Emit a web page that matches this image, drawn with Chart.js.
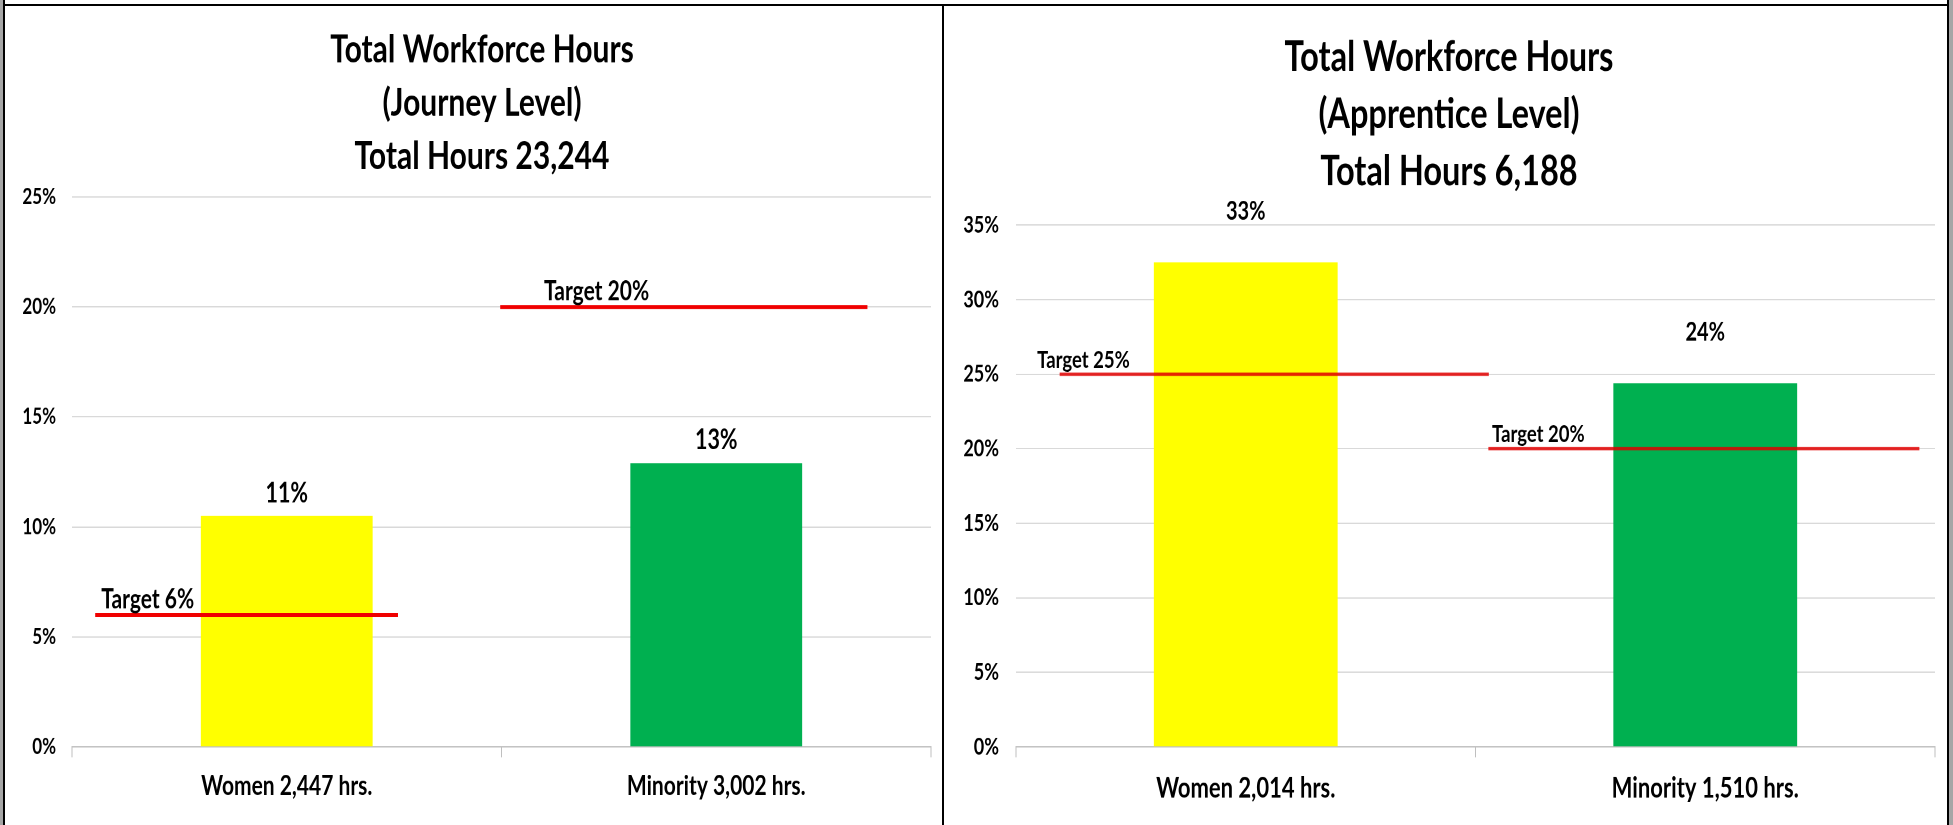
<!DOCTYPE html>
<html>
<head>
<meta charset="utf-8">
<title>Total Workforce Hours</title>
<script src="https://cdn.jsdelivr.net/npm/chart.js@4.4.1/dist/chart.umd.min.js"></script>
<style>
  body { margin: 0; background: #fff; overflow: hidden; }
  .sheet { position: relative; width: 1953px; height: 825px; }
  /* the source picture is stretched vertically, so each chart is drawn short and scaled up */
  .chartBox { position: absolute; top: 0; height: 635px; transform: scaleY(1.3); transform-origin: 0 0; }
  #journeyBox { left: 6px; width: 936px; }
  #apprenticeBox { left: 945px; width: 1002px; }
  .rule { position: absolute; background: #000; }
  .edge { position: absolute; background: #a6a6a6; }
</style>
</head>
<body>
<div class="sheet">
  <div class="chartBox" id="journeyBox"><canvas id="journeyChart"></canvas></div>
  <div class="chartBox" id="apprenticeBox"><canvas id="apprenticeChart"></canvas></div>
  <div class="edge" style="left:0;top:0;width:3px;height:825px"></div>
  <div class="rule" style="left:3px;top:0;width:2px;height:825px"></div>
  <div class="rule" style="left:3px;top:4px;width:1946px;height:2px"></div>
  <div class="rule" style="left:942px;top:4px;width:2px;height:821px"></div>
  <div class="rule" style="left:1947px;top:0;width:2px;height:825px"></div>
  <div class="edge" style="left:1949px;top:0;width:4px;height:825px"></div>
</div>

<script>
// Journey level chart data
const journeyTitle = ['Total Workforce Hours', '(Journey Level)', 'Total Hours 23,244'];
const journeyLabels = ['Women 2,447 hrs.', 'Minority 3,002 hrs.'];
const journeyShares = [10.5, 12.9];
const journeyTargets = [6, 20];
const journeyTicks = [0, 5, 10, 15, 20, 25];

// Apprentice level chart data
const apprenticeTitle = ['Total Workforce Hours', '(Apprentice Level)', 'Total Hours 6,188'];
const apprenticeLabels = ['Women 2,014 hrs.', 'Minority 1,510 hrs.'];
const apprenticeShares = [32.5, 24.4];
const apprenticeTargets = [25, 20];
const apprenticeTicks = [0, 5, 10, 15, 20, 25, 30, 35];

const barColors = ['#ffff00', '#00b050'];

// Sizes and placements for each chart (target line spans are in category units around each bar)
const journeyLook = {
    plotTop: 151.5, padRight: 11, yWidth: 66, xHeight: 60.4,
    titleX: 476, titleSize: 30, titleLine: 41, titleTop: 18,
    tickSize: 17, tickPad: 16, catSize: 21, catPad: 9.5,
    valueSize: 21.5, valueGap: 17.5,
    targetSize: 21, targetGap: 12,
    lineSpans: [[-0.446, 0.259], [-0.503, 0.352]],
    labelStarts: [-0.432, -0.401],
    lineColor: '#f00000', lineWidth: 3
};

const apprenticeLook = {
    plotTop: 173.1, padRight: 12, yWidth: 71, xHeight: 60.4,
    titleX: 504, titleSize: 32.5, titleLine: 44, titleTop: 21.8,
    tickSize: 18, tickPad: 17, catSize: 22, catPad: 10.5,
    valueSize: 20, valueGap: 39,
    targetSize: 18.5, targetGap: 11,
    lineSpans: [[-0.405, 0.529], [-0.472, 0.466]],
    labelStarts: [-0.454, -0.464],
    lineColor: 'rgba(225, 0, 0, 0.85)', lineWidth: 2.5
};

const fontFamily = 'Lato, "Open Sans", sans-serif';
Chart.defaults.font.family = fontFamily;
Chart.defaults.font.weight = 'bold';
Chart.defaults.color = '#000';

// Writes the title, the % above each bar and the "Target" captions above the red lines
const barTextPlugin = {
    id: 'barText',
    afterDatasetsDraw(chart, args, opts) {
        const ctx = chart.ctx;
        const look = opts.look;
        ctx.save();
        ctx.fillStyle = '#000';
        ctx.textBaseline = 'middle';

        ctx.textAlign = 'center';
        ctx.font = 'bold ' + look.titleSize + 'px ' + fontFamily;
        opts.title.forEach((line, i) => {
            ctx.fillText(line, look.titleX, look.titleTop + look.titleLine * (i + 0.5));
        });

        ctx.font = 'bold ' + look.valueSize + 'px ' + fontFamily;
        chart.getDatasetMeta(0).data.forEach((bar, i) => {
            ctx.fillText(Math.round(opts.shares[i]) + '%', bar.x, bar.y - look.valueGap);
        });

        ctx.font = 'bold ' + look.targetSize + 'px ' + fontFamily;
        ctx.textAlign = 'left';
        opts.targets.forEach((t, i) => {
            const x = chart.scales.xTarget.getPixelForValue(i + look.labelStarts[i]);
            const y = chart.scales.y.getPixelForValue(t) - look.targetGap;
            ctx.fillText('Target ' + t + '%', x, y);
        });
        ctx.restore();
    }
};

function makeChart(canvasId, title, labels, shares, targets, ticks, look) {
    const targetSets = targets.map((t, i) => ({
        type: 'line',
        xAxisID: 'xTarget',
        data: [{ x: i + look.lineSpans[i][0], y: t }, { x: i + look.lineSpans[i][1], y: t }],
        borderColor: look.lineColor,
        borderWidth: look.lineWidth,
        pointRadius: 0,
        order: 1
    }));

    new Chart(document.getElementById(canvasId), {
        type: 'bar',
        data: {
            labels: labels,
            datasets: [{
                data: shares,
                backgroundColor: barColors,
                barPercentage: 0.4,
                categoryPercentage: 1,
                grouped: false,
                order: 2
            }].concat(targetSets)
        },
        options: {
            responsive: true,
            maintainAspectRatio: false,
            animation: false,
            devicePixelRatio: 2,
            layout: { padding: { left: 0, right: look.padRight, top: look.plotTop, bottom: 0 } },
            plugins: {
                legend: { display: false },
                tooltip: { enabled: false },
                title: { display: false },
                barText: { look: look, title: title, shares: shares, targets: targets }
            },
            scales: {
                x: {
                    grid: { drawOnChartArea: false, color: '#bfbfbf', tickLength: 8 },
                    border: { color: '#bfbfbf' },
                    ticks: { font: { size: look.catSize }, padding: look.catPad, maxRotation: 0, autoSkip: false },
                    afterFit: scale => { scale.height = look.xHeight; }
                },
                xTarget: { type: 'linear', min: -0.5, max: 1.5, offset: false, display: false },
                y: {
                    min: 0,
                    max: ticks[ticks.length - 1],
                    grid: { color: '#d9d9d9', drawTicks: false },
                    border: { display: false },
                    ticks: { font: { size: look.tickSize }, padding: look.tickPad, callback: v => v + '%' },
                    afterBuildTicks: scale => { scale.ticks = ticks.map(v => ({ value: v })); },
                    afterFit: scale => { scale.width = look.yWidth; }
                }
            }
        },
        plugins: [barTextPlugin]
    });
}

makeChart('journeyChart', journeyTitle, journeyLabels, journeyShares, journeyTargets, journeyTicks, journeyLook);
makeChart('apprenticeChart', apprenticeTitle, apprenticeLabels, apprenticeShares, apprenticeTargets, apprenticeTicks, apprenticeLook);
</script>
</body>
</html>
